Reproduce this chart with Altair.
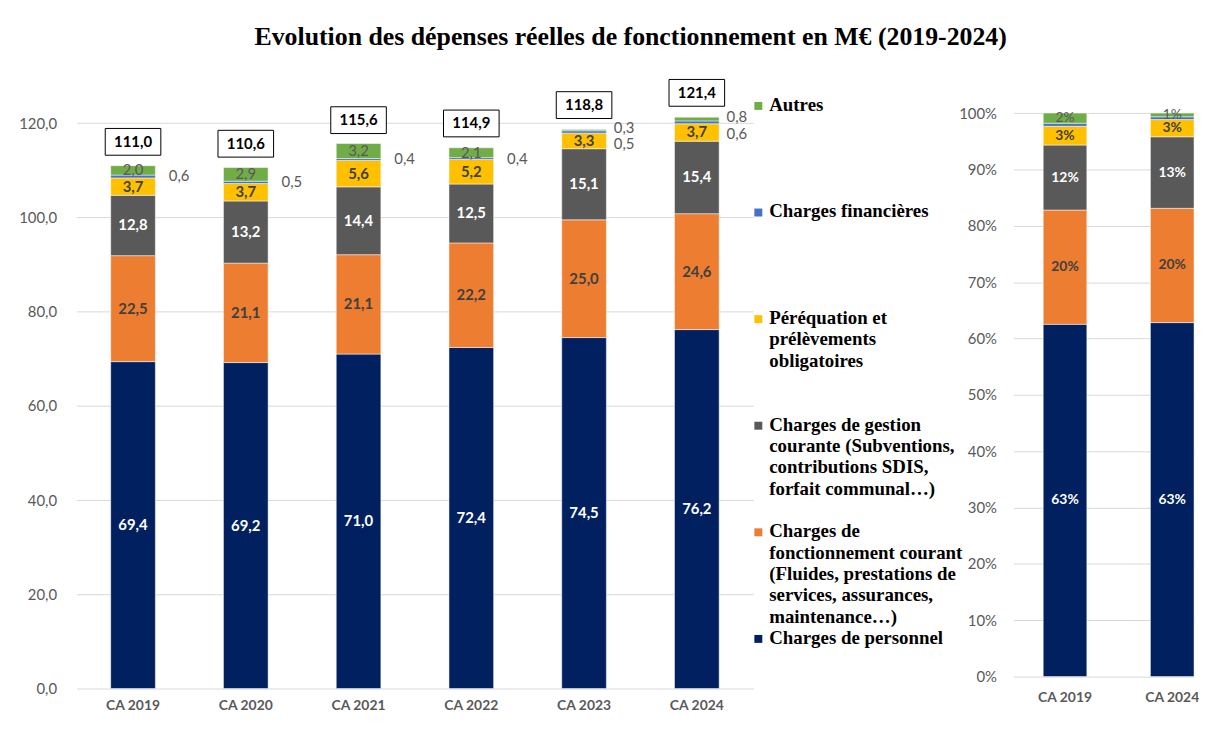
import altair as alt
import pandas as pd

years = ["CA 2019", "CA 2020", "CA 2021", "CA 2022", "CA 2023", "CA 2024"]
totals = [111.0, 110.6, 115.6, 114.9, 118.8, 121.4]

categories = [
    "Charges de personnel",
    "Charges de fonctionnement courant",
    "Charges de gestion courante",
    "Péréquation et prélèvements obligatoires",
    "Charges financières",
    "Autres",
]
personnel = [69.4, 69.2, 71.0, 72.4, 74.5, 76.2]
fonctionnement = [22.5, 21.1, 21.1, 22.2, 25.0, 24.6]
gestion = [12.8, 13.2, 14.4, 12.5, 15.1, 15.4]
perequation = [3.7, 3.7, 5.6, 5.2, 3.3, 3.7]
financieres = [0.6, 0.5, 0.4, 0.4, 0.5, 0.6]
autres = [2.0, 2.9, 3.2, 2.1, 0.3, 0.8]

legend_texts = [
    "Charges de personnel",
    "Charges de\nfonctionnement courant\n(Fluides, prestations de\nservices, assurances,\nmaintenance…)",
    "\u00a0Charges de gestion\ncourante (Subventions,\ncontributions SDIS,\nforfait communal…)",
    "\u00a0Péréquation et\nprélèvements\nobligatoires",
    "\u00a0Charges financières",
    "\u00a0Autres",
]
colors = ["#002060", "#ED7D31", "#595959", "#FFC000", "#4472C4", "#70AD47"]

compare_years = ["CA 2019", "CA 2024"]

series = [personnel, fonctionnement, gestion, perequation, financieres, autres]
rows = []
for k, (cat, vals) in enumerate(zip(categories, series)):
    for y, v in zip(years, vals):
        rows.append({"year": y, "cat": cat, "order": k, "value": v})
df = pd.DataFrame(rows)
df_tot = pd.DataFrame({"year": years, "total": totals})
df_leg = pd.DataFrame({"cat": categories, "label": legend_texts})

color_scale = alt.Scale(domain=categories, range=colors)
GRID = "#D9D9D9"
AXC = "#595959"
SANS = "Lato"
SERIF = "Liberation Serif"

# ---------------- left chart ----------------
ysc = alt.Scale(domain=[0, 124.1], nice=False, zero=True)
xsc = alt.Scale(paddingInner=0.604, paddingOuter=0.3035)
x_axis = alt.Axis(labelAngle=0, labelFont=SANS, labelFontSize=14, labelFontWeight="bold",
                  labelColor=AXC, labelPadding=10, domain=False, ticks=False, title=None)
y_axis = alt.Axis(values=[0, 20, 40, 60, 80, 100, 120],
                  labelExpr="replace(format(datum.value, '.1f'), '.', ',')",
                  labelFont=SANS, labelFontSize=15, labelColor=AXC, labelPadding=20,
                  domain=False, ticks=False, gridColor=GRID, gridWidth=1, title=None)

base = alt.Chart(df)
stacked = base.transform_window(
    cum="sum(value)", groupby=["year"], sort=[alt.SortField("order")], frame=[None, 0]
).transform_joinaggregate(
    seg_total="sum(value)", groupby=["year"]
).transform_calculate(
    mid="datum.cum - datum.value / 2",
    lbl="replace(format(datum.value, '.1f'), '.', ',')",
    pct_mid="(datum.cum - datum.value / 2) / datum.seg_total",
    pct_lbl="format(datum.value / datum.seg_total, '.0%')",
    autres_flag="datum.order == 5 ? datum.value : 0",
).transform_joinaggregate(
    autres_v="sum(autres_flag)", groupby=["year"]
)

xl = alt.X("year:N", sort=years, scale=xsc, axis=x_axis, title=None)

bars = base.mark_bar(stroke="white", strokeWidth=0.5).encode(
    x=xl,
    y=alt.Y("value:Q", stack="zero", scale=ysc, axis=y_axis, title=None),
    color=alt.Color("cat:N", scale=color_scale, legend=None),
    order=alt.Order("order:Q", sort="ascending"),
)

def seg_text(src, flt, color, weight, yfield="mid:Q", scale=ysc, x=xl, yaxis=y_axis,
             text="lbl:N", size=15, **kw):
    return src.transform_filter(flt).mark_text(
        font=SANS, fontSize=size, fontWeight=weight, color=color, **kw
    ).encode(x=x, y=alt.Y(yfield, scale=scale, axis=yaxis, title=None), text=text)

t_white = seg_text(stacked, "datum.order == 0 || datum.order == 2", "white", "bold")
t_dark = seg_text(stacked, "datum.order == 1 || datum.order == 3", "#404040", "bold")
t_green_in = seg_text(stacked, "datum.order == 5 && datum.value >= 1", "#595959", "normal")
t_green_out = seg_text(stacked, "datum.order == 5 && datum.value < 1", "#595959", "normal",
                       align="left", dx=30, dy=-2)
t_blue_a = seg_text(stacked, "datum.order == 4 && datum.autres_v >= 1", "#595959", "normal",
                    align="left", dx=36)
t_blue_b = seg_text(stacked, "datum.order == 4 && datum.autres_v < 1", "#595959", "normal",
                    align="left", dx=30, dy=12)

tot_base = alt.Chart(df_tot).transform_calculate(
    lbl="replace(format(datum.total, '.1f'), '.', ',')"
)
tot_box = tot_base.mark_point(
    shape="M-1,-0.482L1,-0.482L1,0.482L-1,0.482Z", size=3136, filled=True,
    fill="white", stroke="black", strokeWidth=1, opacity=1, yOffset=-24,
).encode(x=xl, y=alt.Y("total:Q", scale=ysc, axis=y_axis, title=None))
tot_txt = tot_base.mark_text(
    font=SANS, fontSize=15, fontWeight="bold", color="black", dy=-24
).encode(x=xl, y=alt.Y("total:Q", scale=ysc, axis=y_axis, title=None), text="lbl:N")

left = alt.layer(
    bars, t_white, t_dark, t_green_in, t_green_out, t_blue_a, t_blue_b, tot_box, tot_txt
).properties(width=682, height=589)

# ---------------- legend panel ----------------
leg_y = alt.Y("cat:N", sort=list(reversed(categories)),
              scale=alt.Scale(type="point", padding=0), axis=None, title=None)
leg_sq = alt.Chart(df_leg).mark_square(size=64, opacity=1, yOffset=2).encode(
    x=alt.value(3), y=leg_y, color=alt.Color("cat:N", scale=color_scale, legend=None)
)
leg_tx = alt.Chart(df_leg).mark_text(
    align="left", baseline="top", dy=-8, font=SERIF, fontSize=19, fontWeight="bold",
    color="black", lineHeight=21.5, lineBreak="\n"
).encode(x=alt.value(14), y=leg_y, text="label:N")
legend = alt.layer(leg_sq, leg_tx).properties(width=258, height=537)

# ---------------- right chart ----------------
rsc = alt.Scale(domain=[0, 1.0162], nice=False)
xr_sc = alt.Scale(paddingInner=0.593, paddingOuter=0.139, align=1)
xr_axis = alt.Axis(labelAngle=0, labelFont=SANS, labelFontSize=14, labelFontWeight="bold",
                   labelColor=AXC, labelPadding=14, domain=False, ticks=False, title=None)
yr_axis = alt.Axis(values=[i / 10 for i in range(11)], format=".0%", labelFont=SANS,
                   labelFontSize=15, labelColor=AXC, labelPadding=17, domain=False,
                   ticks=False, gridColor=GRID, gridWidth=1, title=None)
xr = alt.X("year:N", sort=compare_years, scale=xr_sc, axis=xr_axis, title=None)
r_filter = "datum.year == 'CA 2019' || datum.year == 'CA 2024'"

r_bars = base.transform_filter(r_filter).mark_bar(stroke="white", strokeWidth=0.5).encode(
    x=xr,
    y=alt.Y("value:Q", stack="normalize", scale=rsc, axis=yr_axis, title=None),
    color=alt.Color("cat:N", scale=color_scale, legend=None),
    order=alt.Order("order:Q", sort="ascending"),
)
rstack = stacked.transform_filter(r_filter)
rkw = dict(yfield="pct_mid:Q", scale=rsc, x=xr, yaxis=yr_axis, text="pct_lbl:N", size=14)
r_white = seg_text(rstack, "datum.order == 0 || datum.order == 2", "white", "bold", **rkw)
r_dark = seg_text(rstack, "datum.order == 1 || datum.order == 3", "#404040", "bold", **rkw)
r_green = seg_text(rstack, "datum.order == 5", "#595959", "normal", **rkw)
right = alt.layer(r_bars, r_white, r_dark, r_green).properties(width=182, height=577)

chart = alt.hconcat(left, legend, right, spacing=2, bounds="flush").properties(
    title=alt.TitleParams(
        "Evolution des dépenses réelles de fonctionnement en M€ (2019-2024)",
        font=SERIF, fontSize=26, fontWeight="bold", color="black", anchor="middle",
        offset=28, dx=22,
    ),
    padding={"left": 10, "top": 13, "right": 0, "bottom": 0},
).configure_view(stroke=None)

chart.save("out.html", embed_options={"renderer": "svg", "actions": False})
